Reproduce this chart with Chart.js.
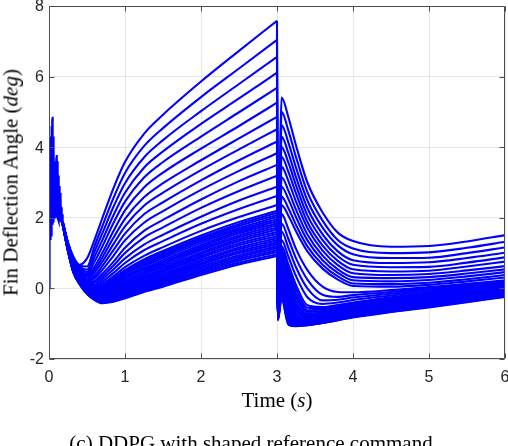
<!DOCTYPE html>
<html>
<head>
<meta charset="utf-8">
<script src="https://cdn.jsdelivr.net/npm/chart.js@4.4.1/dist/chart.umd.min.js"></script>
<style>
  html, body { margin: 0; padding: 0; background: #ffffff; }
  #wrap { position: relative; width: 508px; height: 446px; overflow: hidden; }
  #chart { position: absolute; left: 0; top: 0; }
  .label {
    position: absolute;
    font-family: "Liberation Serif", "DejaVu Serif", serif;
    font-size: 21px;
    line-height: 21px;
    height: 21px;
    color: #000000;
    text-align: center;
    white-space: nowrap;
  }
  #ylab { left: -138.8px; top: 171.5px; width: 300px; transform: rotate(-90deg); }
  #xlab { left: 127px; top: 389.5px; width: 300px; }
  #caption { left: 1px; top: 433px; width: 500px; }
</style>
</head>
<body>
<div id="wrap">
  <canvas id="chart" width="508" height="446"></canvas>
  <div class="label" id="ylab">Fin Deflection Angle (<i>deg</i>)</div>
  <div class="label" id="xlab">Time (<i>s</i>)</div>
  <div class="label" id="caption">(c) DDPG with shaped reference command</div>
</div>
<script>
  const xTickValues = [0, 1, 2, 3, 4, 5, 6];
  const xTickLabels = ["0", "1", "2", "3", "4", "5", "6"];
  const yTickValues = [-2, 0, 2, 4, 6, 8];
  const yTickLabels = ["-2", "0", "2", "4", "6", "8"];

  // start-up chattering shared by every run
  const chatterTimes = [0, 0.003, 0.006, 0.009, 0.012, 0.015, 0.018, 0.021, 0.024, 0.027, 0.03,
    0.033, 0.036, 0.039, 0.042, 0.045, 0.048, 0.051, 0.054, 0.057, 0.06,
    0.064, 0.068, 0.072, 0.076, 0.08, 0.084, 0.088, 0.092, 0.096, 0.1,
    0.104, 0.108, 0.112, 0.116, 0.12, 0.125, 0.13, 0.135, 0.14, 0.145,
    0.15, 0.155, 0.16, 0.165, 0.17, 0.175, 0.18];
  const chatterValues = [0, 0.0, 2.0, 1.4, 3.9, 1.4, 4.1, 1.4, 4.3, 1.5, 4.4,
    1.6, 4.6, 1.7, 4.8, 4.86, 1.8, 4.6, 1.9, 4.3, 1.9,
    4.0, 2.0, 3.6, 2.0, 3.5, 2.0, 3.6, 2.0, 3.7, 3.78,
    2.0, 3.6, 1.95, 3.4, 1.95, 3.2, 1.9, 2.9, 1.9, 2.7,
    1.9, 2.5, 1.9, 2.3, 1.9, 2.1, 1.9];

  // first command segment, one row per run
  const riseTimes = [0.18, 0.25, 0.32, 0.4, 0.5, 0.6, 0.7, 0.85, 1.0, 1.25, 1.5, 2.0, 2.5, 3.0];
  const riseRows = [
    [1.90, 1.30, 0.90, 0.67, 0.85, 1.38, 1.98, 2.85, 3.58, 4.38, 4.92, 5.86, 6.73, 7.58],
    [1.90, 1.29, 0.88, 0.65, 0.62, 1.20, 1.75, 2.57, 3.27, 4.03, 4.54, 5.42, 6.23, 7.04],
    [1.89, 1.28, 0.87, 0.63, 0.53, 1.05, 1.55, 2.32, 2.98, 3.71, 4.20, 5.02, 5.79, 6.56],
    [1.89, 1.27, 0.85, 0.61, 0.46, 0.90, 1.36, 2.08, 2.71, 3.42, 3.88, 4.66, 5.38, 6.11],
    [1.88, 1.26, 0.83, 0.59, 0.40, 0.76, 1.18, 1.86, 2.46, 3.14, 3.58, 4.30, 4.99, 5.68],
    [1.88, 1.25, 0.81, 0.56, 0.35, 0.62, 1.00, 1.63, 2.21, 2.86, 3.28, 3.96, 4.60, 5.26],
    [1.88, 1.24, 0.80, 0.54, 0.30, 0.53, 0.87, 1.44, 1.97, 2.58, 2.98, 3.63, 4.25, 4.86],
    [1.87, 1.23, 0.78, 0.52, 0.25, 0.45, 0.75, 1.26, 1.76, 2.34, 2.71, 3.35, 3.94, 4.51],
    [1.87, 1.22, 0.76, 0.50, 0.21, 0.36, 0.63, 1.09, 1.55, 2.10, 2.44, 3.06, 3.63, 4.16],
    [1.87, 1.21, 0.74, 0.48, 0.19, 0.29, 0.52, 0.93, 1.36, 1.86, 2.19, 2.79, 3.33, 3.83],
    [1.86, 1.20, 0.73, 0.46, 0.16, 0.21, 0.41, 0.76, 1.15, 1.63, 1.94, 2.52, 3.04, 3.50],
    [1.86, 1.19, 0.71, 0.44, 0.14, 0.16, 0.33, 0.65, 1.00, 1.44, 1.73, 2.28, 2.76, 3.19],
    [1.85, 1.18, 0.69, 0.42, 0.11, 0.11, 0.26, 0.54, 0.85, 1.24, 1.52, 2.03, 2.49, 2.88],
    [1.85, 1.18, 0.68, 0.40, 0.09, 0.07, 0.19, 0.44, 0.72, 1.08, 1.34, 1.83, 2.25, 2.62],
    [1.85, 1.17, 0.66, 0.37, 0.07, 0.03, 0.13, 0.35, 0.60, 0.92, 1.17, 1.63, 2.02, 2.36],
    [1.84, 1.16, 0.64, 0.35, 0.05, 0.01, 0.09, 0.29, 0.52, 0.82, 1.06, 1.50, 1.88, 2.20],
    [1.84, 1.15, 0.63, 0.34, 0.03, -0.01, 0.06, 0.25, 0.48, 0.78, 1.01, 1.44, 1.82, 2.14],
    [1.84, 1.15, 0.62, 0.33, 0.02, -0.03, 0.03, 0.22, 0.44, 0.73, 0.96, 1.39, 1.77, 2.08],
    [1.83, 1.14, 0.62, 0.32, 0.00, -0.05, 0.00, 0.18, 0.40, 0.68, 0.91, 1.34, 1.71, 2.02],
    [1.83, 1.14, 0.61, 0.31, -0.02, -0.07, -0.02, 0.15, 0.35, 0.63, 0.86, 1.29, 1.66, 1.96],
    [1.83, 1.13, 0.60, 0.30, -0.03, -0.09, -0.05, 0.11, 0.31, 0.58, 0.80, 1.23, 1.61, 1.90],
    [1.83, 1.13, 0.59, 0.29, -0.05, -0.12, -0.08, 0.08, 0.27, 0.54, 0.75, 1.18, 1.56, 1.84],
    [1.83, 1.12, 0.58, 0.28, -0.07, -0.14, -0.10, 0.04, 0.22, 0.49, 0.70, 1.13, 1.50, 1.78],
    [1.83, 1.12, 0.57, 0.27, -0.09, -0.16, -0.13, 0.01, 0.18, 0.44, 0.65, 1.08, 1.45, 1.72],
    [1.82, 1.11, 0.56, 0.26, -0.10, -0.18, -0.16, -0.02, 0.14, 0.40, 0.60, 1.02, 1.39, 1.66],
    [1.82, 1.11, 0.55, 0.25, -0.12, -0.20, -0.19, -0.06, 0.10, 0.35, 0.55, 0.97, 1.34, 1.60],
    [1.82, 1.10, 0.54, 0.24, -0.12, -0.21, -0.21, -0.09, 0.06, 0.31, 0.50, 0.92, 1.28, 1.54],
    [1.82, 1.10, 0.54, 0.23, -0.13, -0.22, -0.23, -0.12, 0.03, 0.27, 0.46, 0.87, 1.22, 1.48],
    [1.82, 1.09, 0.53, 0.22, -0.13, -0.23, -0.25, -0.14, 0.00, 0.23, 0.41, 0.81, 1.16, 1.42],
    [1.82, 1.09, 0.52, 0.21, -0.13, -0.25, -0.27, -0.17, -0.03, 0.19, 0.37, 0.76, 1.11, 1.36],
    [1.81, 1.08, 0.51, 0.20, -0.13, -0.26, -0.29, -0.20, -0.06, 0.15, 0.33, 0.71, 1.05, 1.30],
    [1.81, 1.08, 0.50, 0.18, -0.14, -0.27, -0.31, -0.22, -0.10, 0.12, 0.29, 0.67, 1.00, 1.25],
    [1.81, 1.07, 0.49, 0.17, -0.14, -0.28, -0.33, -0.25, -0.13, 0.08, 0.25, 0.62, 0.94, 1.19],
    [1.81, 1.07, 0.48, 0.16, -0.14, -0.29, -0.35, -0.28, -0.16, 0.05, 0.21, 0.57, 0.89, 1.14],
    [1.80, 1.06, 0.47, 0.15, -0.14, -0.30, -0.36, -0.30, -0.19, 0.01, 0.17, 0.52, 0.84, 1.08],
    [1.80, 1.06, 0.47, 0.14, -0.15, -0.31, -0.38, -0.33, -0.22, -0.03, 0.13, 0.48, 0.79, 1.03],
    [1.80, 1.05, 0.46, 0.13, -0.15, -0.32, -0.40, -0.35, -0.25, -0.06, 0.09, 0.43, 0.73, 0.97],
    [1.80, 1.05, 0.45, 0.12, -0.15, -0.33, -0.42, -0.38, -0.28, -0.10, 0.05, 0.38, 0.68, 0.92]
  ];

  // after the command switch at t = 3 s, one row per run (same order)
  const fallTimes = [3.012, 3.06, 3.15, 3.25, 3.4, 3.6, 3.8, 4.0, 4.5, 5.0, 5.5, 6.0];
  const fallRows = [
    [-0.35, 5.41, 4.85, 4.05, 3.00, 2.15, 1.58, 1.34, 1.18, 1.20, 1.33, 1.51],
    [-0.37, 5.00, 4.47, 3.72, 2.73, 1.92, 1.37, 1.13, 1.00, 1.02, 1.15, 1.32],
    [-0.39, 4.63, 4.13, 3.42, 2.49, 1.72, 1.22, 0.97, 0.86, 0.87, 1.00, 1.16],
    [-0.41, 4.30, 3.83, 3.15, 2.27, 1.53, 1.05, 0.80, 0.72, 0.74, 0.86, 1.01],
    [-0.43, 4.01, 3.56, 2.92, 2.07, 1.37, 0.91, 0.67, 0.60, 0.61, 0.73, 0.88],
    [-0.46, 3.73, 3.30, 2.69, 1.88, 1.21, 0.78, 0.54, 0.48, 0.50, 0.62, 0.76],
    [-0.48, 3.45, 3.04, 2.46, 1.71, 1.07, 0.66, 0.43, 0.38, 0.41, 0.51, 0.63],
    [-0.50, 3.15, 2.77, 2.23, 1.53, 0.93, 0.54, 0.32, 0.29, 0.32, 0.42, 0.54],
    [-0.52, 2.88, 2.53, 2.02, 1.36, 0.80, 0.44, 0.23, 0.20, 0.24, 0.34, 0.46],
    [-0.54, 2.60, 2.27, 1.80, 1.19, 0.67, 0.34, 0.14, 0.12, 0.16, 0.26, 0.38],
    [-0.56, 2.36, 2.06, 1.62, 1.05, 0.56, 0.25, 0.07, 0.05, 0.10, 0.20, 0.31],
    [-0.58, 2.11, 1.68, 1.12, 0.52, 0.05, -0.10, -0.11, -0.05, 0.04, 0.13, 0.23],
    [-0.60, 1.84, 1.40, 0.85, 0.25, -0.18, -0.24, -0.19, -0.10, 0.00, 0.10, 0.20],
    [-0.63, 1.61, 1.15, 0.60, 0.00, -0.34, -0.32, -0.26, -0.15, -0.04, 0.06, 0.17],
    [-0.65, 1.37, 0.90, 0.35, -0.25, -0.44, -0.40, -0.33, -0.20, -0.08, 0.03, 0.14],
    [-0.67, 1.20, 0.68, 0.10, -0.48, -0.53, -0.47, -0.40, -0.25, -0.12, 0.00, 0.11],
    [-0.68, 1.12, 0.56, -0.02, -0.55, -0.56, -0.50, -0.43, -0.28, -0.14, -0.02, 0.10],
    [-0.69, 1.05, 0.45, -0.15, -0.62, -0.60, -0.53, -0.46, -0.30, -0.16, -0.04, 0.08],
    [-0.70, 0.98, 0.35, -0.26, -0.67, -0.64, -0.56, -0.48, -0.32, -0.18, -0.05, 0.06],
    [-0.71, 0.90, 0.25, -0.38, -0.72, -0.67, -0.59, -0.51, -0.35, -0.20, -0.07, 0.05],
    [-0.72, 0.83, 0.15, -0.46, -0.75, -0.70, -0.61, -0.53, -0.37, -0.21, -0.08, 0.03],
    [-0.73, 0.76, 0.05, -0.55, -0.78, -0.73, -0.64, -0.56, -0.39, -0.23, -0.10, 0.02],
    [-0.74, 0.69, -0.05, -0.62, -0.81, -0.75, -0.66, -0.58, -0.41, -0.25, -0.12, 0.00],
    [-0.75, 0.62, -0.15, -0.70, -0.84, -0.78, -0.69, -0.60, -0.43, -0.27, -0.14, -0.02],
    [-0.76, 0.55, -0.25, -0.76, -0.86, -0.80, -0.71, -0.62, -0.45, -0.29, -0.16, -0.04],
    [-0.77, 0.48, -0.35, -0.82, -0.89, -0.82, -0.73, -0.64, -0.47, -0.31, -0.18, -0.05],
    [-0.78, 0.41, -0.44, -0.86, -0.91, -0.84, -0.75, -0.66, -0.49, -0.33, -0.20, -0.07],
    [-0.79, 0.35, -0.52, -0.90, -0.93, -0.86, -0.77, -0.68, -0.51, -0.35, -0.21, -0.08],
    [-0.80, 0.28, -0.60, -0.93, -0.95, -0.88, -0.79, -0.70, -0.53, -0.37, -0.23, -0.10],
    [-0.82, 0.22, -0.68, -0.96, -0.97, -0.90, -0.81, -0.72, -0.55, -0.39, -0.25, -0.11],
    [-0.83, 0.15, -0.75, -0.98, -0.98, -0.92, -0.83, -0.74, -0.57, -0.41, -0.27, -0.12],
    [-0.84, 0.09, -0.82, -1.00, -1.00, -0.93, -0.84, -0.75, -0.59, -0.43, -0.28, -0.14],
    [-0.85, 0.02, -0.87, -1.02, -1.01, -0.94, -0.85, -0.76, -0.60, -0.44, -0.30, -0.16],
    [-0.86, -0.04, -0.92, -1.03, -1.02, -0.96, -0.87, -0.78, -0.62, -0.46, -0.32, -0.18],
    [-0.87, -0.10, -0.95, -1.04, -1.03, -0.97, -0.88, -0.79, -0.64, -0.48, -0.34, -0.20],
    [-0.88, -0.17, -0.98, -1.05, -1.03, -0.97, -0.89, -0.80, -0.65, -0.50, -0.36, -0.21],
    [-0.89, -0.23, -1.01, -1.06, -1.04, -0.98, -0.90, -0.81, -0.66, -0.52, -0.38, -0.23],
    [-0.90, -0.30, -1.03, -1.07, -1.04, -0.98, -0.90, -0.82, -0.67, -0.54, -0.39, -0.24]
  ];

  const LINE_BLUE = "#0000ff";
  const AXIS_GRAY = "#4d4d4d";

  function toPoints(times, values) {
    return times.map((t, i) => ({ x: t, y: values[i] }));
  }

  function lineDataset(points, smooth) {
    return {
      data: points,
      borderColor: LINE_BLUE,
      borderWidth: 2.1,
      pointRadius: 0,
      fill: false,
      tension: smooth ? 0.4 : 0,
      cubicInterpolationMode: smooth ? "monotone" : "default"
    };
  }

  const datasets = [lineDataset(toPoints(chatterTimes, chatterValues), false)];
  riseRows.forEach((row, k) => {
    datasets.push(lineDataset(toPoints(riseTimes, row), true));
    // the fall segment starts from the last value of the rise segment
    const fallPoints = [{ x: 3.0, y: row[row.length - 1] }].concat(toPoints(fallTimes, fallRows[k]));
    datasets.push(lineDataset(fallPoints, true));
  });

  // MATLAB style box with inward ticks on all four sides
  const matlabAxes = {
    id: "matlabAxes",
    afterDatasetsDraw(chart) {
      const { ctx, chartArea: a, scales } = chart;
      const tick = 5;
      ctx.save();
      ctx.strokeStyle = AXIS_GRAY;
      ctx.lineWidth = 1;
      ctx.beginPath();
      const l = Math.round(a.left) + 0.5;
      const r = Math.round(a.right) - 0.5;
      const t = Math.round(a.top) + 0.5;
      const b = Math.round(a.bottom) - 0.5;
      ctx.rect(l, t, r - l, b - t);
      xTickValues.forEach((v) => {
        const px = Math.round(scales.x.getPixelForValue(v)) + 0.5;
        ctx.moveTo(px, b);
        ctx.lineTo(px, b - tick);
        ctx.moveTo(px, t);
        ctx.lineTo(px, t + tick);
      });
      yTickValues.forEach((v) => {
        const py = Math.round(scales.y.getPixelForValue(v)) + 0.5;
        ctx.moveTo(l, py);
        ctx.lineTo(l + tick, py);
        ctx.moveTo(r, py);
        ctx.lineTo(r - tick, py);
      });
      ctx.stroke();
      ctx.restore();
    }
  };

  const tickFont = { family: "'Liberation Sans', Arial, sans-serif", size: 16 };

  new Chart(document.getElementById("chart"), {
    type: "line",
    data: { datasets: datasets },
    plugins: [matlabAxes],
    options: {
      responsive: false,
      animation: false,
      events: [],
      layout: { padding: { left: 0, right: 3, top: 6, bottom: 0 } },
      plugins: {
        legend: { display: false },
        tooltip: { enabled: false }
      },
      scales: {
        x: {
          type: "linear",
          min: 0,
          max: 6,
          afterBuildTicks: (scale) => {
            scale.ticks = xTickValues.map((v) => ({ value: v }));
          },
          afterFit: (scale) => {
            scale.height = 87;
            scale.paddingLeft = 0;
            scale.paddingRight = 0;
          },
          border: { display: false },
          grid: { color: "#e6e6e6", lineWidth: 1, drawTicks: false },
          ticks: {
            color: "#262626",
            font: tickFont,
            padding: 9,
            maxRotation: 0,
            callback: (value, index) => xTickLabels[index]
          }
        },
        y: {
          type: "linear",
          min: -2,
          max: 8,
          afterBuildTicks: (scale) => {
            scale.ticks = yTickValues.map((v) => ({ value: v }));
          },
          afterFit: (scale) => {
            scale.width = 49;
            scale.paddingTop = 0;
            scale.paddingBottom = 0;
          },
          border: { display: false },
          grid: { color: "#e6e6e6", lineWidth: 1, drawTicks: false },
          ticks: {
            color: "#262626",
            font: tickFont,
            padding: 5,
            labelOffset: 1,
            callback: (value, index) => yTickLabels[index]
          }
        }
      }
    }
  });
</script>
</body>
</html>
